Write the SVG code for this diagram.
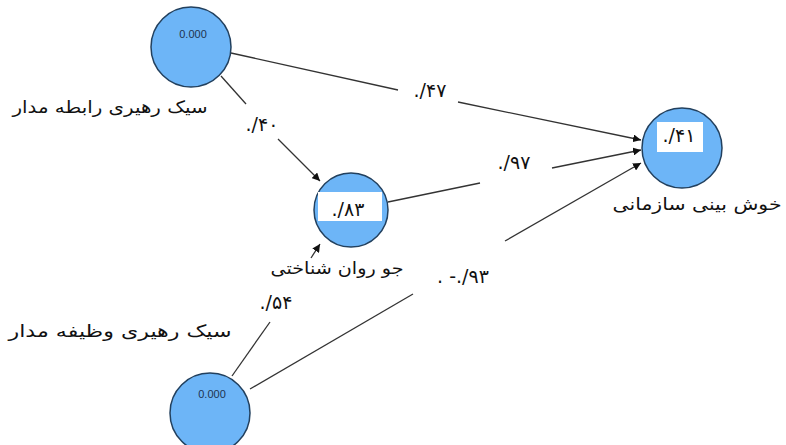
<svg xmlns="http://www.w3.org/2000/svg" width="786" height="445" viewBox="0 0 786 445">
<defs>
<marker id="arr" viewBox="0 0 10 10" refX="10" refY="5" markerWidth="8" markerHeight="8" orient="auto" markerUnits="userSpaceOnUse">
<path d="M0,0 L10,5 L0,10 z" fill="#111"/>
</marker>
<style>
.node{fill:#6DB5F7;stroke:#22405E;stroke-width:1.5}
.edge{stroke:#333;stroke-width:1.3;fill:none}
.val{font-family:"Liberation Sans",sans-serif;font-size:11px;fill:#1E3350;text-anchor:middle}
.lbl{font-family:"DejaVu Sans",sans-serif;font-size:17px;fill:#111;text-anchor:middle}
.num{font-family:"DejaVu Sans",sans-serif;font-size:19px;fill:#111;text-anchor:middle;direction:ltr;unicode-bidi:bidi-override}
.box{fill:#fff}
</style>
</defs>
<rect width="786" height="445" fill="#fff"/>
<g id="connectors">
<line class="edge" x1="231" y1="53" x2="398" y2="90"/>
<line class="edge" x1="458" y1="102" x2="641" y2="140" marker-end="url(#arr)"/>
<line class="edge" x1="221" y1="76" x2="246" y2="104"/>
<line class="edge" x1="278" y1="139" x2="320" y2="181" marker-end="url(#arr)"/>
<line class="edge" x1="388" y1="202" x2="480" y2="183"/>
<line class="edge" x1="552" y1="168" x2="641" y2="150" marker-end="url(#arr)"/>
<line class="edge" x1="232" y1="376" x2="270" y2="322"/>
<line class="edge" x1="311" y1="258" x2="320" y2="244" marker-end="url(#arr)"/>
<line class="edge" x1="250" y1="389" x2="413" y2="294"/>
<line class="edge" x1="505" y1="241" x2="641" y2="163" marker-end="url(#arr)"/>
<text class="num" x="430" y="97">./۴۷</text>
<text class="num" x="262" y="131">./۴۰</text>
<text class="num" x="514" y="169">./۹۷</text>
<text class="num" x="276" y="309">./۵۴</text>
<text class="num" x="463" y="283">. -./۹۳</text>
</g>
<g id="node-a">
<circle class="node" cx="191" cy="47" r="40"/>
<text class="val" x="193" y="38">0.000</text>
<text class="lbl" x="110" y="113" textLength="195" lengthAdjust="spacingAndGlyphs">سیک رهیری رابطه مدار</text>
</g>
<g id="node-b">
<circle class="node" cx="351" cy="210" r="37"/>
<rect class="box" x="318" y="192" width="64" height="29"/>
<text class="num" x="348" y="216" font-size="21">./۸۳</text>
<text class="lbl" x="337" y="274" textLength="133" lengthAdjust="spacingAndGlyphs">جو روان شناختی</text>
</g>
<g id="node-c">
<circle class="node" cx="682" cy="148" r="40"/>
<rect class="box" x="657" y="122" width="46" height="30"/>
<text class="num" x="679" y="142">./۴۱</text>
<text class="lbl" x="697" y="210" textLength="169" lengthAdjust="spacingAndGlyphs">خوش بینی سازمانی</text>
</g>
<g id="node-d">
<circle class="node" cx="210" cy="413" r="40"/>
<text class="val" x="212" y="398">0.000</text>
<text class="lbl" x="120" y="337" textLength="223" lengthAdjust="spacingAndGlyphs">سیک رهیری وظیفه مدار</text>
</g>
</svg>
